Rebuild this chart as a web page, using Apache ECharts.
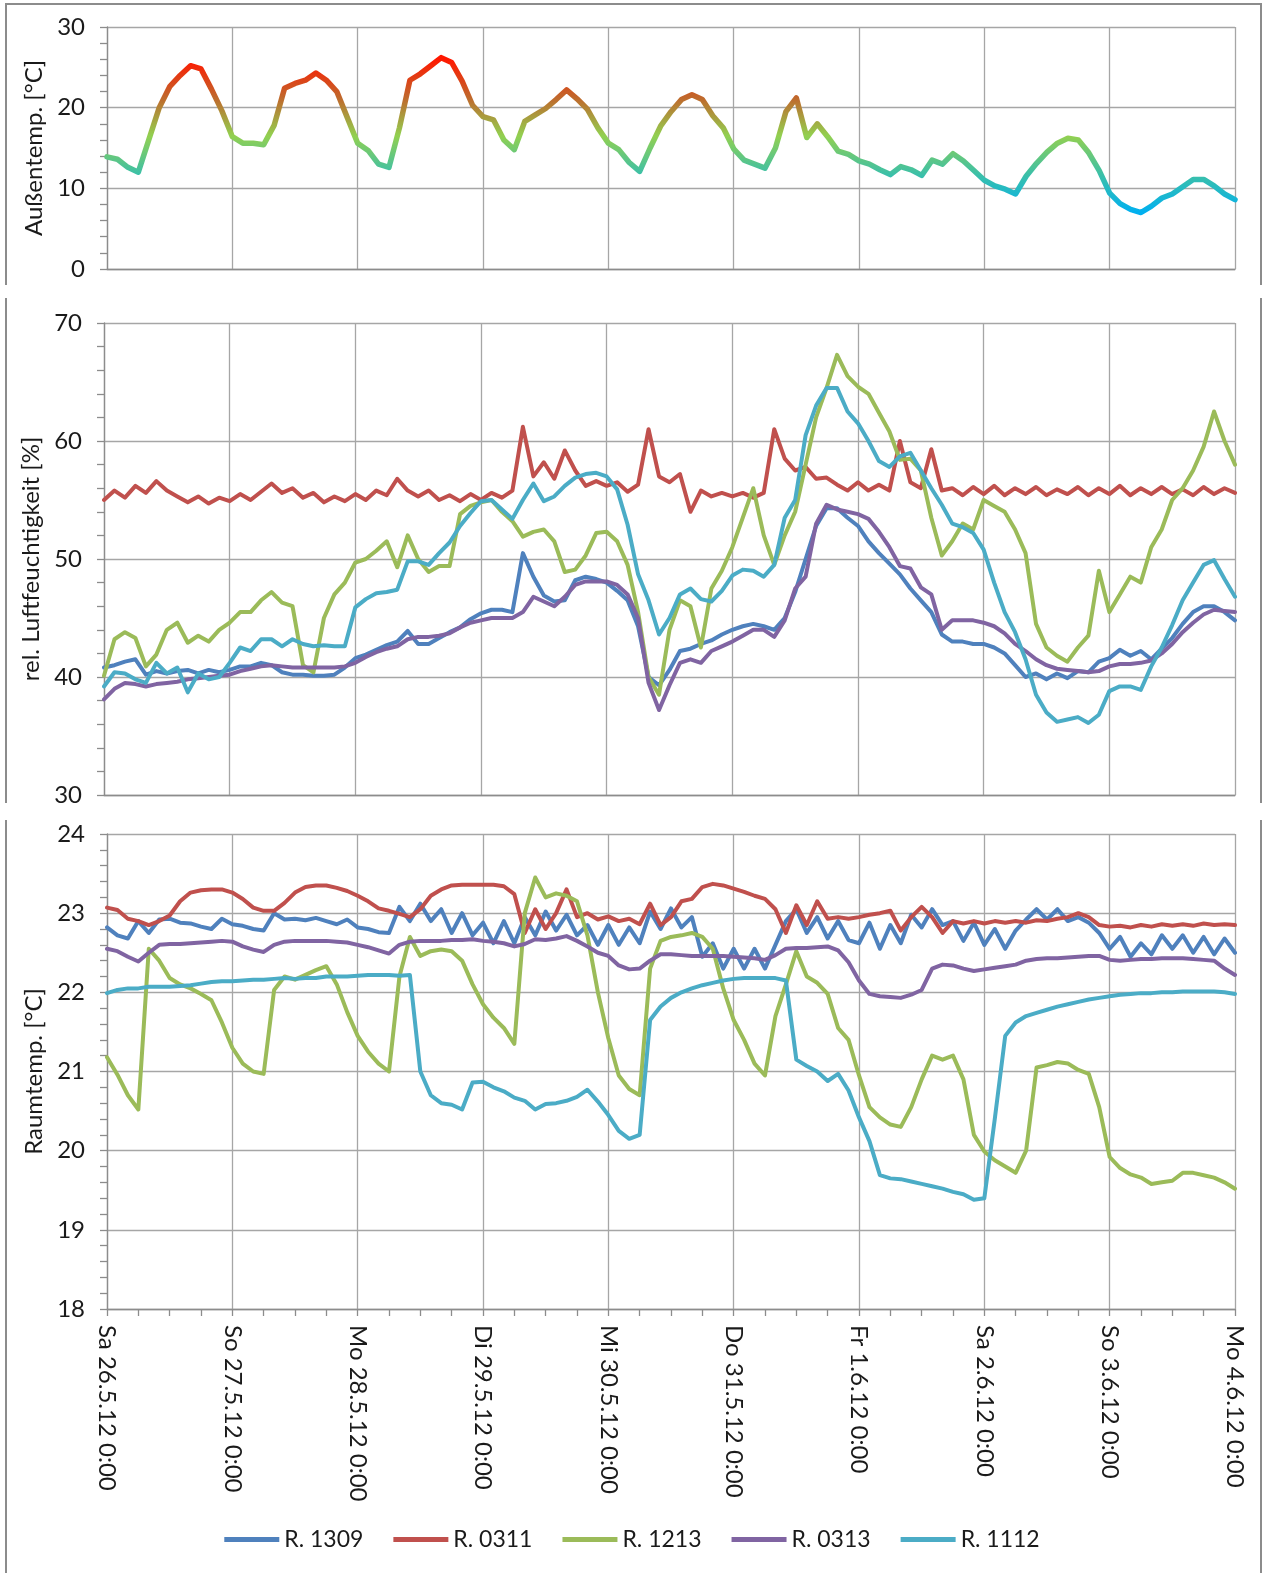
<!DOCTYPE html>
<html>
<head>
<meta charset="utf-8">
<title>Raumklima 26.5.–4.6.2012</title>
<script src="https://cdn.jsdelivr.net/npm/echarts@6/dist/echarts.min.js"></script>
<style>
  html, body { margin: 0; padding: 0; background: #ffffff; }
  #chart { width: 1264px; height: 1573px; }
</style>
</head>
<body>
<div id="chart"></div>
<script>
// Measurements every 2 hours, starting Sa 26.5.12 0:00 (one row per day, 12 samples).
const HOURS_PER_SAMPLE = 2;

const dayLabels = [
  'Sa 26.5.12 0:00', 'So 27.5.12 0:00', 'Mo 28.5.12 0:00', 'Di 29.5.12 0:00',
  'Mi 30.5.12 0:00', 'Do 31.5.12 0:00', 'Fr 1.6.12 0:00', 'Sa 2.6.12 0:00',
  'So 3.6.12 0:00', 'Mo 4.6.12 0:00'
];

const roomNames = ['R. 1309', 'R. 0311', 'R. 1213', 'R. 0313', 'R. 1112'];
const roomColors = ['#4f81bd', '#c0504d', '#9bbb59', '#8064a2', '#4bacc6'];

// Außentemperatur [°C]
const outdoorTemp = [
  13.9, 13.6, 12.6, 12.0, 16.0, 20.0, 22.6, 24.0, 25.2, 24.8, 22.3, 19.6,
  16.4, 15.6, 15.6, 15.4, 17.8, 22.4, 23.0, 23.4, 24.3, 23.4, 22.0, 18.8,
  15.6, 14.7, 13.0, 12.6, 17.5, 23.4, 24.2, 25.2, 26.2, 25.6, 23.3, 20.3,
  18.9, 18.5, 16.0, 14.8, 18.3, 19.1, 19.9, 21.0, 22.2, 21.1, 19.8, 17.5,
  15.6, 14.8, 13.2, 12.1, 15.0, 17.7, 19.5, 21.0, 21.6, 21.0, 19.0, 17.5,
  14.9, 13.5, 13.0, 12.5, 15.0, 19.5, 21.2, 16.3, 18.0, 16.4, 14.6, 14.2,
  13.4, 13.0, 12.3, 11.7, 12.7, 12.3, 11.6, 13.5, 13.0, 14.3, 13.4, 12.2,
  11.0, 10.3, 9.9, 9.3, 11.5, 13.1, 14.5, 15.6, 16.2, 16.0, 14.4, 12.2,
  9.4, 8.1, 7.4, 7.0, 7.8, 8.8, 9.3, 10.2, 11.1, 11.1, 10.3, 9.3,
  8.6
];

// rel. Luftfeuchtigkeit [%]
const humidity1309 = [
  40.8, 41.0, 41.3, 41.5, 40.2, 40.5, 40.3, 40.5, 40.6, 40.3, 40.6, 40.4,
  40.6, 40.9, 40.9, 41.2, 41.0, 40.4, 40.2, 40.2, 40.1, 40.1, 40.2, 40.8,
  41.6, 41.9, 42.3, 42.7, 43.0, 43.9, 42.8, 42.8, 43.3, 43.8, 44.2, 44.9,
  45.4, 45.7, 45.7, 45.5, 50.5, 48.5, 46.9, 46.4, 46.5, 48.2, 48.5, 48.3,
  48.0, 47.3, 46.5, 44.3, 40.0, 39.3, 40.6, 42.2, 42.4, 42.8, 43.1, 43.6,
  44.0, 44.3, 44.5, 44.3, 44.0, 45.0, 47.2, 50.0, 52.8, 54.3, 54.3, 53.5,
  52.8, 51.5, 50.5, 49.6, 48.7, 47.5, 46.5, 45.5, 43.6, 43.0, 43.0, 42.8,
  42.8, 42.5, 42.0, 41.0, 40.0, 40.3, 39.8, 40.3, 39.9, 40.5, 40.4, 41.3,
  41.6, 42.3, 41.8, 42.2, 41.5, 42.4, 43.3, 44.5, 45.5, 46.0, 46.0, 45.5,
  44.8
];
const humidity0311 = [
  55.0, 55.8, 55.2, 56.2, 55.6, 56.6, 55.8, 55.3, 54.8, 55.3, 54.7, 55.2,
  54.9, 55.5, 55.0, 55.7, 56.4, 55.6, 56.0, 55.2, 55.6, 54.8, 55.3, 54.9,
  55.5, 55.0, 55.8, 55.4, 56.8, 55.8, 55.3, 55.8, 55.0, 55.4, 54.9, 55.5,
  55.0, 55.6, 55.2, 55.8, 61.2, 57.0, 58.2, 56.8, 59.2, 57.5, 56.2, 56.6,
  56.2, 56.5, 55.7, 56.3, 61.0, 57.0, 56.5, 57.2, 54.0, 55.8, 55.3, 55.6,
  55.3, 55.6, 55.2, 55.6, 61.0, 58.5, 57.5, 57.8, 56.8, 56.9, 56.3, 55.8,
  56.5, 55.8, 56.3, 55.8, 60.0, 56.5, 56.0, 59.3, 55.8, 56.0, 55.4, 56.1,
  55.5, 56.2, 55.4, 56.0, 55.5, 56.1, 55.4, 55.9, 55.5, 56.1, 55.4, 56.0,
  55.5, 56.2, 55.4, 56.0, 55.5, 56.1, 55.5, 55.9, 55.4, 56.1, 55.5, 56.0,
  55.6
];
const humidity1213 = [
  40.1, 43.2, 43.8, 43.3, 40.9, 41.9, 44.0, 44.6, 42.9, 43.5, 43.0, 44.0,
  44.6, 45.5, 45.5, 46.5, 47.2, 46.3, 46.0, 41.0, 40.4, 45.0, 47.0, 48.0,
  49.7, 50.0, 50.7, 51.5, 49.3, 52.0, 50.0, 48.9, 49.4, 49.4, 53.8, 54.5,
  54.8, 55.0, 54.0, 53.2, 51.9, 52.3, 52.5, 51.5, 48.9, 49.1, 50.3, 52.2,
  52.3, 51.5, 49.5, 45.5, 40.0, 38.5, 44.0, 46.5, 46.0, 42.5, 47.5, 49.0,
  51.0, 53.5, 56.0, 52.0, 49.5, 52.0, 54.0, 58.0, 62.0, 64.5, 67.3, 65.5,
  64.6, 64.0, 62.4, 60.8, 58.4, 58.5, 57.5, 53.5, 50.3, 51.5, 53.0, 52.5,
  55.0, 54.5, 54.0, 52.5, 50.5, 44.5, 42.5, 41.8, 41.3, 42.5, 43.5, 49.0,
  45.5, 47.0, 48.5, 48.0, 51.0, 52.5, 55.0, 56.0, 57.5, 59.5, 62.5, 60.0,
  58.0
];
const humidity0313 = [
  38.1, 39.0, 39.5, 39.4, 39.2, 39.4, 39.5, 39.6, 39.8, 39.9, 40.0, 40.1,
  40.2, 40.5, 40.7, 40.9, 41.0, 40.9, 40.8, 40.8, 40.8, 40.8, 40.8, 40.9,
  41.2, 41.7, 42.1, 42.4, 42.6, 43.2, 43.4, 43.4, 43.5, 43.7, 44.2, 44.6,
  44.8, 45.0, 45.0, 45.0, 45.5, 46.8, 46.4, 46.0, 46.8, 47.8, 48.1, 48.1,
  48.1, 47.8, 47.0, 45.0, 39.5, 37.2, 39.3, 41.2, 41.5, 41.2, 42.2, 42.6,
  43.0, 43.5, 44.0, 44.0, 43.4, 44.8, 47.5, 48.5, 53.0, 54.6, 54.2, 54.0,
  53.8, 53.4, 52.3, 51.0, 49.4, 49.2, 47.6, 47.0, 44.0, 44.8, 44.8, 44.8,
  44.6, 44.3, 43.7, 42.8, 42.2, 41.5, 41.0, 40.7, 40.6, 40.5, 40.4, 40.5,
  40.9, 41.1, 41.1, 41.2, 41.4, 42.0, 42.8, 43.8, 44.6, 45.3, 45.7, 45.6,
  45.5
];
const humidity1112 = [
  39.2, 40.4, 40.3, 39.8, 39.5, 41.2, 40.3, 40.8, 38.7, 40.3, 39.8, 40.0,
  41.2, 42.5, 42.2, 43.2, 43.2, 42.6, 43.2, 42.8, 42.6, 42.7, 42.6, 42.6,
  45.9, 46.6, 47.1, 47.2, 47.4, 49.8, 49.8, 49.5, 50.5, 51.4, 52.8, 53.9,
  54.9, 55.0, 54.2, 53.4, 55.0, 56.4, 54.9, 55.3, 56.2, 56.9, 57.2, 57.3,
  57.0, 55.9, 52.9, 48.7, 46.5, 43.6, 45.0, 47.0, 47.5, 46.6, 46.4, 47.3,
  48.6, 49.1, 49.0, 48.5, 49.5, 53.5, 55.0, 60.5, 63.0, 64.5, 64.5, 62.5,
  61.5, 60.0, 58.3, 57.8, 58.7, 59.0, 57.5, 56.0, 54.6, 53.0, 52.7, 52.2,
  50.8, 48.0, 45.5, 43.8, 41.5, 38.5, 37.0, 36.2, 36.4, 36.6, 36.1, 36.8,
  38.8, 39.2, 39.2, 38.9, 40.9, 42.5, 44.4, 46.5, 48.0, 49.5, 49.9, 48.3,
  46.8
];

// Raumtemperatur [°C]
const roomTemp1309 = [
  22.82, 22.72, 22.68, 22.90, 22.75, 22.92, 22.93, 22.88, 22.87, 22.83, 22.80, 22.93,
  22.86, 22.84, 22.80, 22.78, 23.00, 22.92, 22.93, 22.91, 22.94, 22.90, 22.86, 22.92,
  22.82, 22.80, 22.76, 22.75, 23.08, 22.90, 23.12, 22.90, 23.05, 22.75, 23.00, 22.72,
  22.88, 22.62, 22.90, 22.62, 22.95, 22.72, 23.02, 22.78, 22.98, 22.72, 22.85, 22.60,
  22.85, 22.60, 22.82, 22.62, 23.02, 22.80, 23.06, 22.82, 22.95, 22.45, 22.62, 22.30,
  22.55, 22.30, 22.55, 22.30, 22.60, 22.90, 23.05, 22.75, 22.95, 22.68, 22.90, 22.66,
  22.62, 22.88, 22.55, 22.85, 22.62, 22.98, 22.82, 23.05, 22.85, 22.90, 22.65, 22.88,
  22.60, 22.80, 22.55, 22.78, 22.92, 23.05, 22.92, 23.05, 22.90, 22.95, 22.88, 22.75,
  22.55, 22.70, 22.45, 22.62, 22.48, 22.72, 22.55, 22.72, 22.50, 22.70, 22.48, 22.68,
  22.50
];
const roomTemp0311 = [
  23.07, 23.04, 22.93, 22.90, 22.85, 22.90, 22.97, 23.15, 23.26, 23.29, 23.30, 23.30,
  23.26, 23.18, 23.07, 23.03, 23.03, 23.13, 23.26, 23.33, 23.35, 23.35, 23.32, 23.28,
  23.22, 23.15, 23.06, 23.03, 22.99, 22.95, 23.05, 23.22, 23.30, 23.35, 23.36, 23.36,
  23.36, 23.36, 23.34, 23.24, 22.75, 23.05, 22.80, 23.00, 23.30, 22.95, 23.00, 22.92,
  22.96, 22.90, 22.93, 22.86, 23.12, 22.85, 22.95, 23.15, 23.18, 23.33, 23.37, 23.35,
  23.31, 23.27, 23.22, 23.18, 23.05, 22.75, 23.10, 22.85, 23.15, 22.93, 22.95, 22.93,
  22.95, 22.98, 23.00, 23.03, 22.78, 22.95, 23.08, 22.95, 22.75, 22.90, 22.87, 22.90,
  22.87, 22.90, 22.88, 22.90, 22.88, 22.91, 22.90, 22.93, 22.95, 23.00, 22.95, 22.85,
  22.83, 22.84, 22.82, 22.85, 22.83, 22.86, 22.84, 22.86, 22.84, 22.87, 22.85, 22.86,
  22.85
];
const roomTemp1213 = [
  21.18, 20.96, 20.70, 20.52, 22.55, 22.40, 22.18, 22.10, 22.05, 21.98, 21.90, 21.62,
  21.30, 21.10, 21.00, 20.97, 22.03, 22.20, 22.16, 22.22, 22.28, 22.33, 22.10, 21.75,
  21.45, 21.25, 21.10, 21.00, 22.20, 22.70, 22.46, 22.52, 22.54, 22.52, 22.40, 22.10,
  21.85, 21.68, 21.55, 21.35, 23.00, 23.45, 23.20, 23.25, 23.22, 23.15, 22.72, 22.00,
  21.42, 20.95, 20.78, 20.70, 22.30, 22.65, 22.70, 22.72, 22.75, 22.70, 22.55, 22.05,
  21.65, 21.40, 21.10, 20.95, 21.70, 22.10, 22.52, 22.20, 22.12, 21.98, 21.55, 21.40,
  20.95, 20.55, 20.42, 20.33, 20.30, 20.55, 20.90, 21.20, 21.15, 21.20, 20.90, 20.20,
  19.99, 19.88, 19.80, 19.72, 20.00, 21.05, 21.08, 21.12, 21.10, 21.02, 20.97, 20.55,
  19.92, 19.78, 19.70, 19.66, 19.58, 19.60, 19.62, 19.72, 19.72, 19.69, 19.66, 19.60,
  19.52
];
const roomTemp0313 = [
  22.55, 22.52, 22.45, 22.39, 22.50, 22.60, 22.61, 22.61, 22.62, 22.63, 22.64, 22.65,
  22.64, 22.58, 22.54, 22.51, 22.60, 22.64, 22.65, 22.65, 22.65, 22.65, 22.64, 22.63,
  22.60, 22.57, 22.53, 22.49, 22.60, 22.64, 22.65, 22.65, 22.65, 22.66, 22.66, 22.67,
  22.65, 22.64, 22.62, 22.58, 22.61, 22.67, 22.66, 22.68, 22.71, 22.65, 22.58, 22.50,
  22.46, 22.34, 22.29, 22.30, 22.40, 22.48, 22.48, 22.47, 22.46, 22.46, 22.46, 22.46,
  22.45, 22.44, 22.43, 22.41, 22.47, 22.55, 22.56, 22.56, 22.57, 22.58, 22.53, 22.38,
  22.15, 21.98, 21.95, 21.94, 21.93, 21.97, 22.03, 22.30, 22.35, 22.34, 22.30, 22.27,
  22.29, 22.31, 22.33, 22.35, 22.40, 22.42, 22.43, 22.43, 22.44, 22.45, 22.46, 22.46,
  22.41, 22.40, 22.41, 22.42, 22.42, 22.43, 22.43, 22.43, 22.42, 22.41, 22.40, 22.30,
  22.22
];
const roomTemp1112 = [
  21.99, 22.03, 22.05, 22.05, 22.07, 22.07, 22.07, 22.08, 22.09, 22.11, 22.13, 22.14,
  22.14, 22.15, 22.16, 22.16, 22.17, 22.18, 22.17, 22.18, 22.18, 22.20, 22.20, 22.20,
  22.21, 22.22, 22.22, 22.22, 22.21, 22.22, 21.00, 20.70, 20.60, 20.58, 20.52, 20.86,
  20.87, 20.80, 20.75, 20.67, 20.63, 20.52, 20.59, 20.60, 20.63, 20.68, 20.77, 20.62,
  20.45, 20.25, 20.15, 20.20, 21.65, 21.82, 21.93, 22.00, 22.05, 22.09, 22.12, 22.15,
  22.17, 22.18, 22.18, 22.18, 22.18, 22.15, 21.15, 21.07, 21.00, 20.88, 20.97, 20.76,
  20.42, 20.12, 19.69, 19.65, 19.64, 19.61, 19.58, 19.55, 19.52, 19.48, 19.45, 19.38,
  19.40, 20.40, 21.45, 21.62, 21.70, 21.74, 21.78, 21.82, 21.85, 21.88, 21.91, 21.93,
  21.95, 21.97, 21.98, 21.99, 21.99, 22.00, 22.00, 22.01, 22.01, 22.01, 22.01, 22.00,
  21.98
];

const humiditySeries = [humidity1309, humidity0311, humidity1213, humidity0313, humidity1112];
const roomTempSeries = [roomTemp1309, roomTemp0311, roomTemp1213, roomTemp0313, roomTemp1112];

// ---- styling ----
const FONT = 'Lato, "Open Sans", "Liberation Sans", sans-serif';
const GRID_GRAY = '#a6a6a6';
const AXIS_GRAY = '#8c8c8c';
const TEXT = '#1a1a1a';
const HOURS_TOTAL = (dayLabels.length - 1) * 24;

function toPoints(values) {
  return values.map((v, i) => [i * HOURS_PER_SAMPLE, v]);
}

function timeAxis(gridIndex, withLabels) {
  return {
    type: 'value',
    gridIndex: gridIndex,
    min: 0,
    max: HOURS_TOTAL,
    interval: 24,
    axisLine: { show: true, lineStyle: { color: AXIS_GRAY, width: 1.3 } },
    axisTick: { show: withLabels, length: 7, lineStyle: { color: AXIS_GRAY, width: 1.3 } },
    minorTick: { show: withLabels, splitNumber: 4, length: 7, lineStyle: { color: AXIS_GRAY, width: 1.3 } },
    splitLine: { show: true, lineStyle: { color: GRID_GRAY, width: 1.3 } },
    axisLabel: {
      show: withLabels,
      rotate: -90,
      margin: 16,
      fontFamily: FONT,
      fontSize: 24,
      color: TEXT,
      showMinLabel: true,
      showMaxLabel: true,
      formatter: function (v) { return dayLabels[Math.round(v / 24)] || ''; }
    }
  };
}

function valueAxis(gridIndex, min, max, interval, name) {
  return {
    type: 'value',
    gridIndex: gridIndex,
    min: min,
    max: max,
    interval: interval,
    name: name,
    nameLocation: 'middle',
    nameGap: 58,
    nameTextStyle: { fontFamily: FONT, fontSize: 24, color: TEXT },
    axisLine: { show: true, lineStyle: { color: AXIS_GRAY, width: 1.3 } },
    axisTick: { show: true, length: 7, lineStyle: { color: AXIS_GRAY, width: 1.3 } },
    minorTick: { show: true, splitNumber: 5, length: 7, lineStyle: { color: AXIS_GRAY, width: 1.3 } },
    splitLine: { show: true, lineStyle: { color: GRID_GRAY, width: 1.3 } },
    axisLabel: { margin: 22, fontFamily: FONT, fontSize: 24, color: TEXT }
  };
}

function roomLine(name, color, values, axisIndex) {
  return {
    name: name,
    type: 'line',
    xAxisIndex: axisIndex,
    yAxisIndex: axisIndex,
    data: toPoints(values),
    showSymbol: false,
    symbol: 'none',
    lineStyle: { color: color, width: 4, join: 'round', cap: 'round' },
    itemStyle: { color: color },
    emphasis: { disabled: true },
    z: 3
  };
}

const series = [{
  name: 'Außentemperatur',
  type: 'line',
  xAxisIndex: 0,
  yAxisIndex: 0,
  data: toPoints(outdoorTemp),
  showSymbol: false,
  symbol: 'none',
  lineStyle: { width: 5.5, join: 'round', cap: 'round' },
  emphasis: { disabled: true }
}];
roomNames.forEach((n, k) => series.push(roomLine(n, roomColors[k], humiditySeries[k], 1)));
roomNames.forEach((n, k) => series.push(roomLine(n, roomColors[k], roomTempSeries[k], 2)));

const frameStyle = { stroke: '#8c8c8c', lineWidth: 2, fill: null };

const option = {
  animation: false,
  backgroundColor: '#ffffff',
  textStyle: { fontFamily: FONT },
  grid: [
    { left: 107, right: 29, top: 27, height: 242 },
    { left: 104, right: 29, top: 323, height: 472 },
    { left: 107, right: 29, top: 834, height: 475 }
  ],
  xAxis: [timeAxis(0, false), timeAxis(1, false), timeAxis(2, true)],
  yAxis: [
    valueAxis(0, 0, 30, 10, 'Außentemp. [°C]'),
    valueAxis(1, 30, 70, 10, 'rel. Luftfeuchtigkeit [%]'),
    valueAxis(2, 18, 24, 1, 'Raumtemp. [°C]')
  ],
  visualMap: {
    type: 'continuous',
    show: false,
    seriesIndex: 0,
    dimension: 1,
    min: 7,
    max: 26,
    inRange: { color: ['#00b0f0', '#3cc0a8', '#92d050', '#c0682c', '#ff1800'] }
  },
  legend: {
    data: roomNames,
    left: 'center',
    top: 1523,
    icon: 'rect',
    itemWidth: 55,
    itemHeight: 5,
    itemGap: 30,
    textStyle: { fontFamily: FONT, fontSize: 23, color: TEXT },
    selectedMode: false
  },
  graphic: [
    { type: 'polyline', shape: { points: [[6, 285], [6, 4], [1261, 4], [1261, 285]] }, style: frameStyle, silent: true },
    { type: 'line', shape: { x1: 6, y1: 298, x2: 6, y2: 803 }, style: frameStyle, silent: true },
    { type: 'line', shape: { x1: 1261, y1: 298, x2: 1261, y2: 803 }, style: frameStyle, silent: true },
    { type: 'line', shape: { x1: 6, y1: 820, x2: 6, y2: 1573 }, style: frameStyle, silent: true },
    { type: 'line', shape: { x1: 1261, y1: 820, x2: 1261, y2: 1573 }, style: frameStyle, silent: true }
  ],
  series: series
};

const chart = echarts.init(document.getElementById('chart'), null, { renderer: 'canvas' });
chart.setOption(option);
</script>
</body>
</html>
